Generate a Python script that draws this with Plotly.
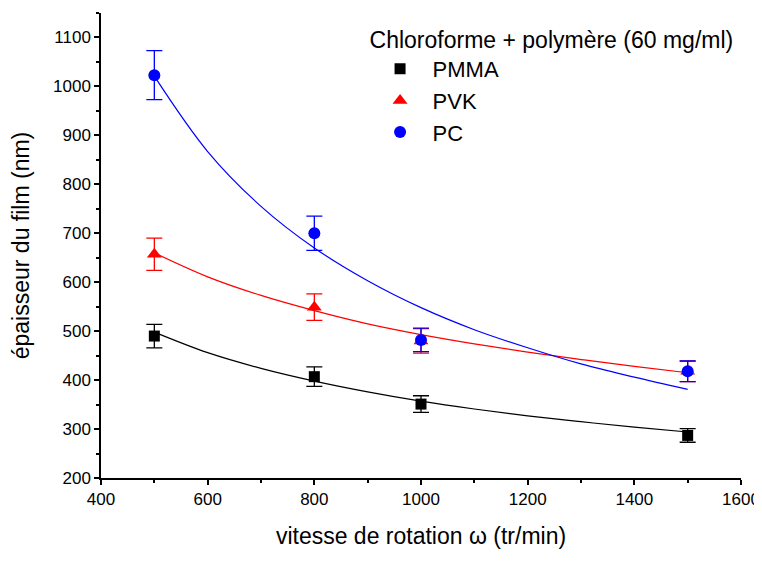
import plotly.graph_objects as go

# measured points (spin speed in tr/min, thickness in nm)
vitesse = [500, 800, 1000, 1500]

pmma = [490, 407, 351, 287]
pmma_err = [24, 20, 17, 14]
pvk = [657, 549, 480, 418]
pvk_err = [33, 27, 25, 21]
pc = [1023, 700, 482, 418]
pc_err = [50, 35, 24, 21]

# fitted curves
fit_x = [500, 600, 700, 800, 900, 1000, 1100, 1200, 1300, 1400, 1500]
fit_pmma = [498, 456, 424, 398, 376, 357, 341, 327, 315, 304, 294]
fit_pvk = [660, 611, 573, 542, 515, 493, 474, 457, 442, 428, 415]
fit_pc = [1021, 867, 755, 670, 603, 548, 503, 466, 433, 406, 381]

police = "Liberation Sans, Arial, sans-serif"

fig = go.Figure()

# fit lines first, markers on top
for fy, col in [(fit_pmma, "black"), (fit_pvk, "red"), (fit_pc, "blue")]:
    fig.add_trace(go.Scatter(x=fit_x, y=fy, mode="lines",
                             line=dict(color=col, width=1.2, shape="spline"),
                             showlegend=False, hoverinfo="skip"))

series = [("PMMA", pmma, pmma_err, "black", "square", 11),
          ("PVK", pvk, pvk_err, "red", "triangle-up", 13),
          ("PC", pc, pc_err, "blue", "circle", 12)]
for nom, yy, err, col, sym, sz in series:
    fig.add_trace(go.Scatter(x=vitesse, y=yy, mode="markers", name=nom,
                             marker=dict(color=col, symbol=sym, size=sz),
                             error_y=dict(type="data", array=err, visible=True,
                                          color=col, thickness=1.3, width=8)))

# the page body has an 8px margin, so the figure is offset inside the window
fig.update_layout(
    width=754, height=545,
    margin=dict(l=93, r=21, t=5, b=75),
    plot_bgcolor="white", paper_bgcolor="white",
    font=dict(family=police, color="black", size=17),
    legend=dict(x=0.4165, y=0.989, xanchor="left", yanchor="top",
                xref="paper", yref="paper",
                font=dict(size=22), itemwidth=55,
                title=dict(text="Chloroforme + polymère (60 mg/ml)", font=dict(size=23)),
                bgcolor="rgba(0,0,0,0)", tracegroupgap=0),
)

fig.update_xaxes(range=[400, 1600], dtick=200, tick0=400, automargin=False,
                 showline=True, linecolor="black", linewidth=1.5,
                 ticks="outside", ticklen=5, tickwidth=1.5, tickcolor="black",
                 minor=dict(ticks="outside", ticklen=3, dtick=100, tickcolor="black"),
                 showgrid=False, zeroline=False, ticklabeloverflow="allow",
                 tickfont=dict(size=17),
                 title=dict(text="vitesse de rotation ω (tr/min)", font=dict(size=23), standoff=20))
fig.update_yaxes(range=[200, 1150], dtick=100, tick0=200, automargin=False,
                 showline=True, linecolor="black", linewidth=1.5,
                 ticks="outside", ticklen=5, tickwidth=1.5, tickcolor="black",
                 minor=dict(ticks="outside", ticklen=3, dtick=50, tickcolor="black"),
                 showgrid=False, zeroline=False,
                 tickfont=dict(size=17),
                 title=dict(text="épaisseur du film (nm)", font=dict(size=23), standoff=17))

fig.write_html("out.html")
